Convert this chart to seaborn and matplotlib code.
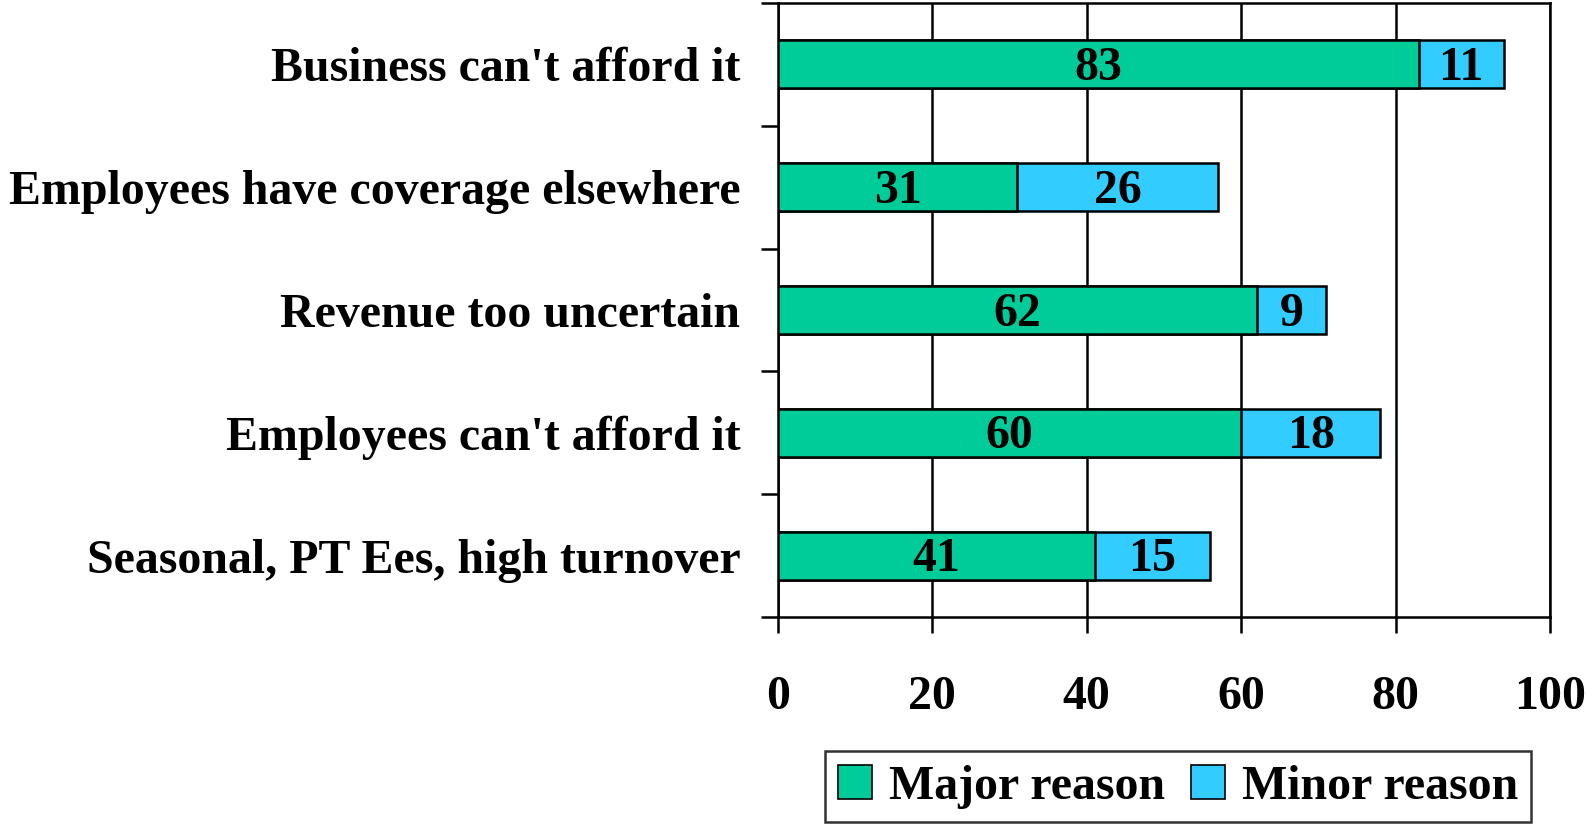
import pandas as pd
import matplotlib
matplotlib.use('Agg')
import matplotlib.pyplot as plt
import seaborn as sns
from matplotlib.patches import Patch


reasons = ["Business can't afford it", 'Employees have coverage elsewhere',
           'Revenue too uncertain', "Employees can't afford it",
           'Seasonal, PT Ees, high turnover']
major = [83, 31, 62, 60, 41]
minor = [11, 26, 9, 18, 15]

colors = ['#00CC99', '#33CCFF']

df = pd.DataFrame({'reason': reasons, 'major': major, 'minor': minor})
df['total'] = df['major'] + df['minor']

sns.set_style('white')
plt.rcParams['font.family'] = ['Liberation Serif', 'DejaVu Serif']
plt.rcParams['font.weight'] = 'bold'
plt.rcParams['text.color'] = 'black'
plt.rcParams['xtick.color'] = 'black'
plt.rcParams['ytick.color'] = 'black'
plt.rcParams['xtick.labelcolor'] = 'black'
plt.rcParams['ytick.labelcolor'] = 'black'
fs = 34.5

fig = plt.figure(figsize=(15.88, 8.24), dpi=100)
ax = fig.add_axes([778/1588, 1-617/824, (1550-778)/1588, 614/824])

sns.barplot(data=df, y='reason', x='total', color=colors[1], saturation=1,
            width=0.39, edgecolor='black', linewidth=1.8, ax=ax, zorder=3)
sns.barplot(data=df, y='reason', x='major', color=colors[0], saturation=1,
            width=0.39, edgecolor='black', linewidth=1.8, ax=ax, zorder=4)

for i, row in df.iterrows():
    ax.text(row['major']/2, i+0.03, f"{row['major']}", ha='center', va='center',
            fontsize=fs, fontweight='bold', color='black', zorder=5)
    ax.text(row['major'] + row['minor']/2, i+0.03, f"{row['minor']}", ha='center',
            va='center', fontsize=fs, fontweight='bold', color='black', zorder=5)

ax.set_xlim(0, 100)
ax.set_ylim(4.5, -0.5)
ax.set_xticks(range(0, 101, 20))
ax.xaxis.grid(True, color='black', linewidth=1.8, zorder=0)
ax.set_axisbelow(True)
ax.set_xlabel('')
ax.set_ylabel('')

ax.tick_params(axis='x', direction='out', length=11.5, width=1.8, pad=30,
               labelsize=fs, bottom=True)
ax.tick_params(axis='y', which='major', length=0, pad=27, labelsize=fs)
ax.set_yticks([k + 0.5 for k in range(-1, 5)], minor=True)
ax.tick_params(axis='y', which='minor', direction='out', length=12, width=1.8, left=True)
for lab in ax.get_xticklabels() + ax.get_yticklabels():
    lab.set_fontweight('bold')
    lab.set_color('black')

for s in ax.spines.values():
    s.set_visible(True)
    s.set_color('black')
    s.set_linewidth(1.8)

handles = [Patch(facecolor=colors[0], edgecolor='black', linewidth=1.2, label='Major reason'),
           Patch(facecolor=colors[1], edgecolor='black', linewidth=1.2, label='Minor reason')]
leg = fig.legend(handles=handles, loc='lower left', bbox_to_anchor=(825/1588, 2/824),
                 ncol=2, frameon=True, fancybox=False, handlelength=0.7,
                 handleheight=0.7, handletextpad=0.35, columnspacing=0.55,
                 borderpad=0.28, borderaxespad=0, prop={'weight': 'bold', 'size': fs})
leg.get_frame().set_edgecolor('black')
leg.get_frame().set_linewidth(1.8)
for t in leg.get_texts():
    t.set_color('black')

fig.savefig('out.png', dpi=100, facecolor='white')
